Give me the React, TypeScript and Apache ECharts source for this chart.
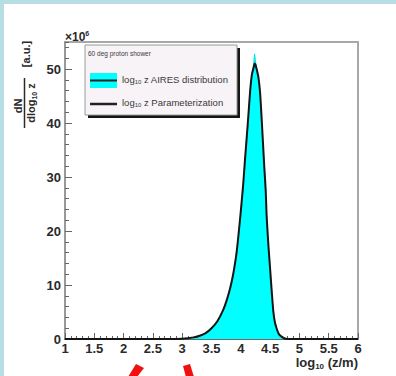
import React, { useEffect, useRef } from "react";
import * as echarts from "echarts";

// log10(z/m) sample positions
const logZ = [
  1.0, 2.0, 2.8, 3.0, 3.1, 3.2, 3.3, 3.4, 3.5, 3.6,
  3.7, 3.76, 3.82, 3.87, 3.93, 3.99, 4.04, 4.07, 4.12, 4.16,
  4.19, 4.22, 4.235, 4.25, 4.27, 4.3, 4.33, 4.36, 4.4, 4.425,
  4.44, 4.47, 4.5, 4.53, 4.555, 4.58, 4.61, 4.65, 4.7, 4.75,
  4.8, 5.0, 6.0,
];
// AIRES distribution (x10^6)
const airesValues = [
  0, 0, 0, 0.05, 0.15, 0.3, 0.6, 1.1, 2.0, 3.3,
  5.4, 7.2, 9.5, 12, 16.2, 22.5, 28.5, 33, 40, 46,
  49.2, 51, 52.8, 51.5, 50, 48.5, 45.5, 40, 32, 27.5,
  23, 17.5, 13, 8.5, 5.1, 3.2, 2.0, 0.9, 0.4, 0.1,
  0, 0, 0,
];
// Parameterization (x10^6)
const paramValues = [
  0, 0, 0, 0.05, 0.15, 0.3, 0.6, 1.1, 2.0, 3.3,
  5.4, 7.2, 9.5, 12, 16.2, 22.5, 28.5, 33, 40, 46,
  49, 50.3, 51, 50.8, 50, 48.5, 45.5, 40, 32, 27.5,
  23, 17.5, 13, 8.5, 5.1, 3.2, 2.0, 0.9, 0.4, 0.1,
  0, 0, 0,
];

const X_MIN = 1;
const X_MAX = 6;
const X_STEP = 0.5;
const Y_MIN = 0;
const Y_MAX = 55;
const Y_STEP = 10;
const Y_MINOR_STEP = 2;

const legendTitle = "60 deg proton shower";
const legendAires = " z AIRES distribution";
const legendParam = " z Parameterization";

const FONT = "'Liberation Sans', Arial, Helvetica, sans-serif";

export default function App() {
  const ref = useRef<HTMLDivElement>(null);
  useEffect(() => {
    if (!ref.current) return;
    const chart = echarts.init(ref.current, undefined, { renderer: "svg" });
    const aires = logZ.map((x, i) => [x, airesValues[i]]);
    const param = logZ.map((x, i) => [x, paramValues[i]]);
    const tickColor = "#666";
    const labelStyle = {
      color: "#2a2a2a",
      fontSize: 13,
      fontWeight: "bold" as const,
      fontFamily: FONT,
    };
    const rich = (size: number, bold: boolean) => ({
      m: { fontSize: size, lineHeight: size + 3, fontFamily: FONT, fontWeight: bold ? "bold" : "normal", fill: bold ? "#2a2a2a" : "#3a3a3a" },
      s: { fontSize: Math.round(size * 0.62), lineHeight: Math.round(size * 0.62), verticalAlign: "bottom", fontFamily: FONT, fontWeight: bold ? "bold" : "normal", fill: bold ? "#2a2a2a" : "#3a3a3a" },
      p: { fontSize: Math.round(size * 0.62), lineHeight: Math.round(size * 0.62), verticalAlign: "top", fontFamily: FONT, fontWeight: bold ? "bold" : "normal", fill: bold ? "#2a2a2a" : "#3a3a3a" },
    });
    chart.setOption({
      animation: false,
      backgroundColor: "#ffffff",
      grid: {
        left: 65,
        right: 38,
        top: 42,
        bottom: 37,
        show: true,
        borderColor: "#a8a8a8",
        borderWidth: 2,
        backgroundColor: "#ffffff",
      },
      xAxis: {
        type: "value",
        min: X_MIN,
        max: X_MAX,
        interval: X_STEP,
        axisLine: { show: true, lineStyle: { color: "#555", width: 1.5 } },
        axisTick: { show: true, inside: true, length: 6, lineStyle: { color: tickColor, width: 1 } },
        minorTick: { show: true, splitNumber: 5, length: 3, lineStyle: { color: tickColor, width: 1 } },
        splitLine: { show: false },
        axisLabel: { ...labelStyle, margin: 3, showMinLabel: true, showMaxLabel: true },
      },
      yAxis: [
        {
          type: "value",
          min: Y_MIN,
          max: Y_MAX,
          interval: Y_STEP,
          axisLine: { show: true, lineStyle: { color: "#999", width: 2 } },
          axisTick: { show: true, inside: true, length: 7, lineStyle: { color: tickColor, width: 1 } },
          splitLine: { show: false },
          axisLabel: { ...labelStyle, margin: 4, showMaxLabel: false },
        },
        {
          type: "value",
          position: "left",
          min: Y_MIN,
          max: Y_MAX,
          interval: Y_MINOR_STEP,
          axisLine: { show: false },
          axisTick: { show: true, inside: true, length: 4, lineStyle: { color: tickColor, width: 1 } },
          splitLine: { show: false },
          axisLabel: { show: false },
        },
      ],
      series: [
        {
          type: "line",
          data: aires,
          symbol: "none",
          lineStyle: { color: "#00e0e0", width: 1 },
          areaStyle: { color: "#00ffff", opacity: 1 },
          z: 2,
        },
        {
          type: "line",
          data: param,
          symbol: "none",
          smooth: 0.2,
          lineStyle: { color: "#151515", width: 2 },
          z: 3,
        },
      ],
      graphic: [
        { type: "rect", shape: { x: 0, y: 0, width: 396, height: 4 }, style: { fill: "#b7dfe3" }, z: 100 },
        { type: "rect", shape: { x: 0, y: 0, width: 4, height: 376 }, style: { fill: "#b7dfe3" }, z: 100 },
        // legend shadow + box
        { type: "rect", shape: { x: 88, y: 48, width: 152, height: 70 }, style: { fill: "#151515" }, z: 50 },
        { type: "rect", shape: { x: 85, y: 45, width: 152, height: 70 }, style: { fill: "#f7f3f7", stroke: "#9a9a9a", lineWidth: 1 }, z: 51 },
        { type: "text", x: 88, y: 53, z: 52, style: { text: legendTitle, fontSize: 6.5, fontFamily: FONT, fill: "#3a3a3a", align: "left", verticalAlign: "middle" } },
        { type: "rect", shape: { x: 90, y: 73, width: 27, height: 15 }, style: { fill: "#00ffff" }, z: 52 },
        { type: "line", shape: { x1: 90, y1: 80.5, x2: 117, y2: 80.5 }, style: { stroke: "#222", lineWidth: 2 }, z: 53 },
        { type: "text", x: 122, y: 79, z: 52, style: { text: "{m|log}{s|10}{m|" + legendAires + "}", rich: rich(9.5, false), align: "left", verticalAlign: "middle" } },
        { type: "line", shape: { x1: 90, y1: 104, x2: 117, y2: 104 }, style: { stroke: "#222", lineWidth: 2.5 }, z: 53 },
        { type: "text", x: 122, y: 102, z: 52, style: { text: "{m|log}{s|10}{m|" + legendParam + "}", rich: rich(9.5, false), align: "left", verticalAlign: "middle" } },
        // x10^6
        { type: "text", x: 65, y: 37, z: 52, style: { text: "{m|\u00d710}{p|6}", rich: rich(12, true), align: "left", verticalAlign: "middle" } },
        // x axis title
        { type: "text", x: 358, y: 362, z: 52, style: { text: "{m|log}{s|10}{m| (z/m)}", rich: rich(13, true), align: "right", verticalAlign: "middle" } },
        // y axis title (rotated)
        { type: "text", x: 25.5, y: 54, rotation: Math.PI / 2, z: 52, style: { text: "[a.u.]", fontSize: 11, fontWeight: "bold", fontFamily: FONT, fill: "#2a2a2a", align: "center", verticalAlign: "middle" } },
        { type: "text", x: 18, y: 106, rotation: Math.PI / 2, z: 52, style: { text: "dN", fontSize: 11, fontWeight: "bold", fontFamily: FONT, fill: "#2a2a2a", align: "center", verticalAlign: "middle" } },
        { type: "line", shape: { x1: 24.5, y1: 78, x2: 24.5, y2: 128 }, style: { stroke: "#2a2a2a", lineWidth: 1.5 }, z: 52 },
        { type: "text", x: 31, y: 103, rotation: Math.PI / 2, z: 52, style: { text: "{m|dlog}{s|10}{m| z}", rich: rich(11, true), align: "center", verticalAlign: "middle" } },
        // red marks
        { type: "polygon", shape: { points: [[136, 364], [144, 368], [137, 377], [128, 377]] }, style: { fill: "#f01010" }, z: 60 },
        { type: "polygon", shape: { points: [[183, 366], [190, 364], [194, 377], [186, 377]] }, style: { fill: "#f01010" }, z: 60 },
      ],
    });
    return () => chart.dispose();
  }, []);
  return <div ref={ref} style={{ position: "absolute", left: 0, top: 0, width: 396, height: 376 }} />;
}
